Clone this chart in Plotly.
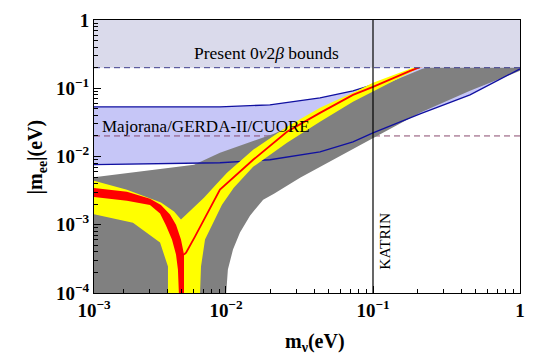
"""Effective Majorana mass |m_ee| versus lightest neutrino mass."""

import numpy as np
import plotly.graph_objects as go

# axis limits (eV)
x_min = 1.265e-3
x_max = 1.0
y_min = 1e-4
y_max = 1.0

# tick labels
x_tick_vals = [x_min, 1e-2, 1e-1, 1.0]
x_tick_text = ["10<sup>\u22123</sup>", "10<sup>\u22122</sup>", "10<sup>\u22121</sup>", "1"]
y_tick_vals = [1e-4, 1e-3, 1e-2, 1e-1, 1.0]
y_tick_text = ["10<sup>\u22124</sup>", "10<sup>\u22123</sup>", "10<sup>\u22122</sup>", "10<sup>\u22121</sup>", "1"]

# present 0nu2beta bound and next-generation sensitivity
present_bound = 0.2
future_bound = 0.02
katrin = 0.1

# gray band (outline: upper edge left->right, lower edge right->left)
gray_x = [1.2e-3, 6.06e-3, 9.10e-3, 2.12e-2, 3.19e-2, 5.10e-2, 9.84e-2, 0.215, 1.0,
          1.0, 0.457, 0.209, 0.0955, 0.0436, 0.0319, 0.0212, 0.0179, 0.01456,
          0.01245, 0.01116, 0.0103, 0.01, 1.2e-3]
gray_y = [0.00489, 0.00757, 0.01135, 0.0215, 0.0322, 0.0483, 0.0947, 0.192, 0.51,
          0.180, 0.0916, 0.0436, 0.0176, 0.00708, 0.00489, 0.00285, 0.00233, 0.00136,
          0.000767, 0.000433, 0.000221, 9e-5, 9e-5]

# yellow band
yellow_x = [1.2e-3, 2.12e-3, 3.61e-3, 4.43e-3, 4.94e-3, 5.87e-3, 7.08e-3, 8.41e-3, 1.016e-2,
            1.53e-2, 2.60e-2, 4.36e-2, 7.31e-2, 0.1, 0.187, 0.457, 1.0,
            1.0, 0.457, 0.199, 0.1, 7.31e-2, 4.36e-2, 2.60e-2, 1.53e-2, 1.13e-2,
            9.39e-3, 8.41e-3, 7.20e-3, 6.76e-3, 6.65e-3,
            4.03e-3, 4.03e-3, 3.56e-3, 2.33e-3, 1.2e-3]
yellow_y = [0.00457, 0.00327, 0.00211, 0.00156, 0.00119, 0.00172, 0.00249, 0.00373, 0.00578,
            0.01255, 0.0272, 0.0516, 0.0856, 0.120, 0.199, 0.431, 1.0,
            0.714, 0.340, 0.192, 0.0885, 0.0632, 0.0322, 0.0159, 0.00708, 0.00349,
            0.00197, 0.00119, 0.000606, 0.000244, 9e-5,
            9e-5, 0.000244, 0.000548, 0.00107, 0.00146]

# red band, left branch
red_x = [1.2e-3, 2.12e-3, 3.04e-3, 3.61e-3, 4.16e-3, 4.57e-3, 4.94e-3, 5.18e-3, 5.18e-3, 5.18e-3,
         4.79e-3, 4.71e-3, 4.57e-3, 4.29e-3, 3.90e-3, 3.56e-3, 3.04e-3, 2.12e-3, 1.2e-3]
red_y = [0.00349, 0.00305, 0.00241, 0.00195, 0.00141, 0.00100, 0.000606, 0.000366, 0.000187, 9e-5,
         9e-5, 0.000221, 0.000366, 0.000606, 0.00098, 0.00146, 0.00195, 0.00225, 0.00258]

# red thin branch
red_arm_x = [5.18e-3, 5.35e-3, 6.15e-3, 7.08e-3, 8.03e-3, 9.10e-3, 1.53e-2, 2.60e-2, 4.36e-2,
             7.31e-2, 0.1, 0.179, 0.457, 1.0]
red_arm_y = [0.000366, 0.000391, 0.00067, 0.00119, 0.00204, 0.00327, 0.00896, 0.0230, 0.0436,
             0.080, 0.1047, 0.180, 0.389, 0.845]

# blue region (inverted hierarchy)
blue_up_x = [1.2e-3, 9.10e-3, 1.99e-2, 4.36e-2, 7.31e-2, 0.1, 0.141, 0.193, 0.457, 1.0]
blue_up_y = [0.0534, 0.0534, 0.0571, 0.0723, 0.0916, 0.112, 0.142, 0.192, 0.364, 0.645]
blue_lo_x = [1.2e-3, 9.10e-3, 1.99e-2, 4.36e-2, 7.31e-2, 0.1, 0.209, 0.457, 1.0]
blue_lo_y = [0.00757, 0.0081, 0.00896, 0.01173, 0.0164, 0.0222, 0.0422, 0.080, 0.192]

FONT = "Liberation Serif"
BLUE_LINE = "#1010a0"

fig = go.Figure()

# blue region
fig.add_trace(go.Scatter(
    x=blue_up_x + blue_lo_x[::-1], y=blue_up_y + blue_lo_y[::-1],
    fill="toself", fillcolor="#c6c6f7", mode="lines", line=dict(width=0)))
fig.add_trace(go.Scatter(x=blue_up_x, y=blue_up_y, mode="lines",
                         line=dict(color=BLUE_LINE, width=1.3)))
fig.add_trace(go.Scatter(x=[x_min, x_max], y=[future_bound, future_bound], mode="lines",
                         line=dict(color="#8a4a6e", width=1, dash="6px,4px")))

# gray band
fig.add_trace(go.Scatter(x=gray_x, y=gray_y, fill="toself", fillcolor="#808080",
                         mode="lines", line=dict(width=0)))
fig.add_trace(go.Scatter(x=blue_lo_x, y=blue_lo_y, mode="lines",
                         line=dict(color=BLUE_LINE, width=1.3)))

# yellow and red bands
fig.add_trace(go.Scatter(x=yellow_x, y=yellow_y, fill="toself", fillcolor="#ffff00",
                         mode="lines", line=dict(width=0)))
fig.add_trace(go.Scatter(x=red_x, y=red_y, fill="toself", fillcolor="#ff0000",
                         mode="lines", line=dict(width=0)))
fig.add_trace(go.Scatter(x=red_arm_x, y=red_arm_y, mode="lines",
                         line=dict(color="#ff0000", width=1.8)))

# present bounds
fig.add_trace(go.Scatter(x=[x_min, x_max, x_max, x_min],
                         y=[present_bound, present_bound, y_max, y_max],
                         fill="toself", fillcolor="#dadaeb", mode="lines", line=dict(width=0)))
fig.add_trace(go.Scatter(x=[x_min, x_max], y=[present_bound, present_bound], mode="lines",
                         line=dict(color="#3c3c8c", width=1, dash="6px,4px")))

# KATRIN
fig.add_trace(go.Scatter(x=[katrin, katrin], y=[y_min, y_max], mode="lines",
                         line=dict(color="black", width=1.2)))

fig.add_annotation(x=np.log10(0.0190), y=np.log10(0.329), text="Present 0<i>\u03bd</i>2<i>\u03b2</i> bounds",
                   showarrow=False, font=dict(family=FONT, size=17.5, color="black"))
fig.add_annotation(x=np.log10(1.39e-3), y=np.log10(0.0272), text="Majorana/GERDA-II/CUORE",
                   xanchor="left", showarrow=False, font=dict(family=FONT, size=17, color="black"))
fig.add_annotation(x=np.log10(0.1208), y=np.log10(5.66e-4), text="KATRIN", textangle=-90,
                   showarrow=False, font=dict(family=FONT, size=15.5, color="black"))

# axis titles
fig.add_annotation(xref="paper", yref="paper", x=-0.134, y=0.5, text="|m<sub>ee</sub>|(eV)",
                   xanchor="center", yanchor="middle", textangle=-90, showarrow=False,
                   font=dict(family=FONT, size=20, color="black", weight="bold"))
fig.add_annotation(xref="paper", yref="paper", x=0.519, y=-0.183, text="m<sub>\u03bd</sub>(eV)",
                   xanchor="center", yanchor="middle", showarrow=False,
                   font=dict(family=FONT, size=20, color="black", weight="bold"))

x_minor = [k * 10.0 ** e for e in (-3, -2, -1) for k in range(2, 10)]
y_minor = [k * 10.0 ** e for e in (-4, -3, -2, -1) for k in range(2, 10)]

axis_common = dict(
    type="log", tickmode="array", ticks="inside", ticklen=7, tickcolor="black",
    showline=True, linecolor="black", linewidth=1, mirror=True,
    showgrid=False, zeroline=False, automargin=False,
    tickfont=dict(family=FONT, size=19, color="black", weight="bold"),
)

# the page body adds an 8 px margin, so the figure is 8 px smaller each way
fig.update_layout(
    width=533, height=351,
    margin=dict(l=86, r=21, t=12, b=66),
    paper_bgcolor="white", plot_bgcolor="white",
    showlegend=False,
    xaxis=dict(axis_common, range=[np.log10(x_min), np.log10(x_max)],
               tickvals=x_tick_vals, ticktext=x_tick_text,
               minor=dict(tickvals=x_minor, ticks="inside", ticklen=4, tickcolor="black")),
    yaxis=dict(axis_common, range=[np.log10(y_min), np.log10(y_max)],
               tickvals=y_tick_vals, ticktext=y_tick_text,
               minor=dict(tickvals=y_minor, ticks="inside", ticklen=4, tickcolor="black")),
)

fig.write_html("out.html")
